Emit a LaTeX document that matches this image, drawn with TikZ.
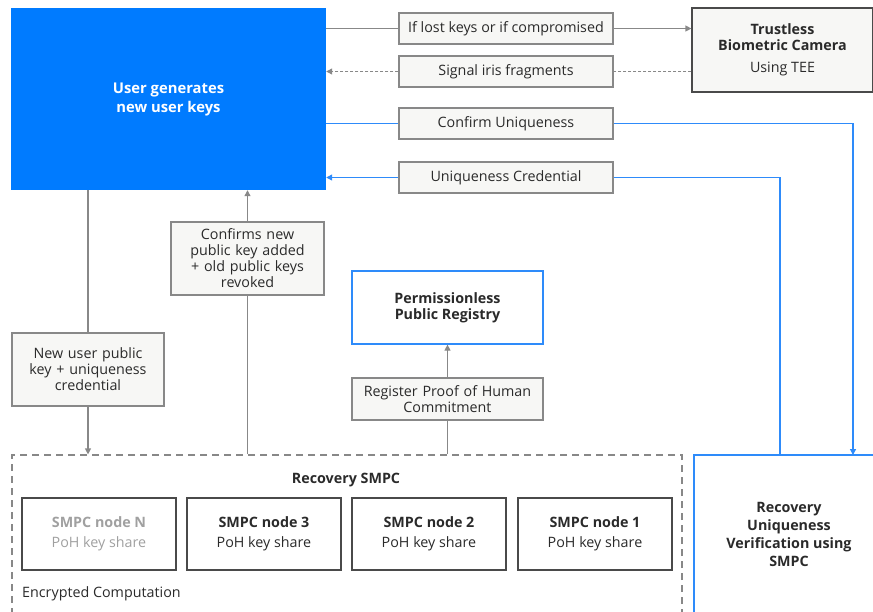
\documentclass[tikz,border=0pt]{standalone}
\usepackage{fontspec}
\setmainfont{Open Sans}
\usetikzlibrary{arrows.meta,calc}
\definecolor{ublue}{HTML}{007BFF}
\definecolor{lblue}{HTML}{2E8BFA}
\definecolor{lgray}{HTML}{888888}
\definecolor{dgray}{HTML}{4A4A4A}
\definecolor{paper}{HTML}{F7F7F5}
\definecolor{txt}{HTML}{2A2A2A}
\tikzset{
  every node/.style={font=\fontsize{14.3}{16}\selectfont, text=txt, align=center, inner sep=0pt},
  lbl/.style={draw=lgray, fill=paper, line width=1.2pt, minimum width=214pt, minimum height=31pt},
  tag/.style={draw=lgray, fill=paper, line width=1.2pt, text width=150pt},
  smpcnode/.style={draw=dgray, line width=1.2pt, minimum width=154pt, minimum height=72pt},
  conn/.style={draw=lgray, line width=1.2pt},
  bconn/.style={draw=lblue, line width=1.2pt},
  tip/.style={-{Triangle[length=6pt,width=6pt]}},
}
\begin{document}
\begin{tikzpicture}[x=1pt,y=-1pt]
\useasboundingbox (0,0) rectangle (873,611);

% main actor
\node[fill=ublue, minimum width=315pt, minimum height=182pt, text=white, font=\fontsize{14.8}{19}\selectfont\bfseries] (user) at (168.5,99) {User generates\\new user keys};

% labels along the top exchange
\node[lbl] (lost) at (506,28.5) {If lost keys or if compromised};
\node[lbl] (signal) at (506,71.5) {Signal iris fragments};
\node[lbl] (confirm) at (506,123.5) {Confirm Uniqueness};
\node[lbl] (ucred) at (506,177.5) {Uniqueness Credential};

% camera
\node[draw=dgray, fill=paper, line width=1.2pt, minimum width=181pt, minimum height=84pt] (camera) at (782.5,50)
  {\textbf{Trustless}\\\textbf{Biometric Camera}\\[6pt]Using TEE};

% vertical labels
\node[tag, minimum width=152pt, minimum height=73pt] (newkey) at (88,369.5) {New user public\\key + uniqueness\\credential};
\node[tag, minimum width=153pt, minimum height=73pt] (confirms) at (247.5,258.5) {Confirms new\\public key added\\+ old public keys\\revoked};

% registry
\node[draw=lblue, fill=white, line width=1.2pt, minimum width=191pt, minimum height=73pt, font=\fontsize{14.3}{16}\selectfont\bfseries] (registry) at (447.5,307.5) {Permissionless\\Public Registry};
\node[tag, text width=185pt, minimum width=191pt, minimum height=42pt] (register) at (447.5,399) {Register Proof of Human\\Commitment};

% SMPC container
\node[draw=lgray, dash pattern=on 7pt off 5pt, line width=1.2pt, minimum width=670pt, minimum height=175pt] (smpc) at (347,542.5) {};
\node[font=\fontsize{14.3}{16}\selectfont\bfseries] (smpctitle) at (346,480) {Recovery SMPC};
\node[anchor=west] (enc) at (22,594) {Encrypted Computation};

\node[smpcnode, text=lgray!80] (nN) at (99,534) {\textbf{SMPC node N}\\[4pt]PoH key share};
\node[smpcnode] (n3) at (264,534) {\textbf{SMPC node 3}\\[4pt]PoH key share};
\node[smpcnode] (n2) at (429,534) {\textbf{SMPC node 2}\\[4pt]PoH key share};
\node[smpcnode] (n1) at (595,534) {\textbf{SMPC node 1}\\[4pt]PoH key share};

% verification
\node[draw=lblue, line width=1.2pt, minimum width=192pt, minimum height=175pt] (verif) at (790,542.5) {};
\node[font=\fontsize{14.3}{18}\selectfont\bfseries] (veriftext) at (789,534.5) {Recovery\\Uniqueness\\Verification using\\SMPC};
\coordinate (vA) at (853,455);
\coordinate (vB) at (780,455);

% connectors
\draw[conn] (user.east |- lost.west) -- (lost.west);
\draw[conn, tip] (lost.east) -- (lost.east -| camera.west);
\draw[conn, dash pattern=on 3pt off 2pt] (signal.east -| camera.west) -- (signal.east);
\draw[conn, dash pattern=on 3pt off 2pt, tip] (signal.west) -- (signal.west -| user.east);
\draw[bconn] (user.east |- confirm.west) -- (confirm.west);
\draw[bconn, tip] (confirm.east) -| (vA);
\draw[bconn] (vB) |- (ucred.east);
\draw[bconn, tip] (ucred.west) -- (ucred.west -| user.east);

\draw[conn] (newkey.north |- user.south) -- (newkey.north);
\draw[conn, tip] (newkey.south) -- (newkey.south |- smpc.north);
\draw[conn] (confirms.south |- smpc.north) -- (confirms.south);
\draw[conn, tip] (confirms.north) -- (confirms.north |- user.south);
\draw[conn] (register.south |- smpc.north) -- (register.south);
\draw[conn, tip] (register.north) -- (registry.south);
\end{tikzpicture}
\end{document}
